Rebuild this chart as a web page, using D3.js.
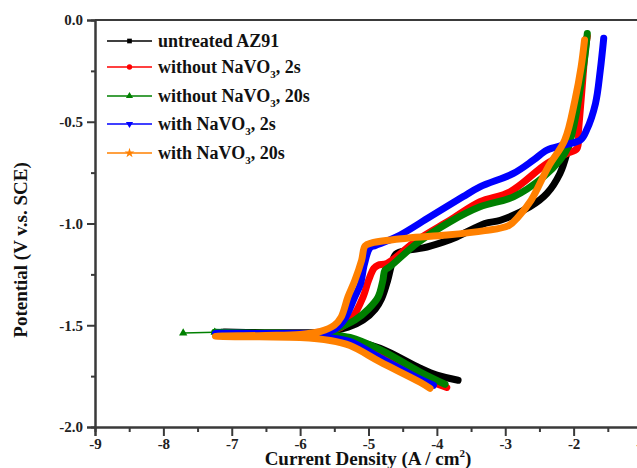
<!DOCTYPE html>
<html>
<head>
<meta charset="utf-8">
<script src="https://cdn.jsdelivr.net/npm/d3@7"></script>
<style>
  body { margin: 0; background: #fff; }
  svg text { font-family: "Liberation Serif", "Times New Roman", serif; font-weight: bold; }
</style>
</head>
<body>
<div id="chart"></div>
<script>
// series: [log current density, potential]
var untreatedAZ91 = [
  [-3.69, -1.77], [-4.0, -1.745], [-4.245, -1.711], [-4.83, -1.613], [-5.3, -1.57], [-5.6, -1.55],
  [-6.2, -1.54], [-7.14, -1.533], [-6.2, -1.537], [-5.6, -1.533], [-5.3, -1.51], [-5.08, -1.475],
  [-4.9, -1.42], [-4.81, -1.37], [-4.72, -1.28], [-4.66, -1.2], [-4.6, -1.15], [-4.4, -1.13],
  [-4.2, -1.12], [-3.9, -1.09], [-3.71, -1.066], [-3.3, -1.0], [-3.07, -0.984], [-2.64, -0.918],
  [-2.39, -0.852], [-2.2, -0.754], [-2.1, -0.656], [-2.0, -0.492], [-1.9, -0.295], [-1.83, -0.131], [-1.81, -0.09]
];
var without2s = [
  [-3.855, -1.806], [-4.245, -1.755], [-4.83, -1.652], [-5.27, -1.585], [-5.6, -1.56], [-6.3, -1.548],
  [-7.1, -1.545], [-6.3, -1.54], [-5.6, -1.53], [-5.4, -1.51], [-5.25, -1.47], [-5.08, -1.362],
  [-5.0, -1.28], [-4.92, -1.22], [-4.86, -1.205], [-4.73, -1.196], [-4.29, -1.082], [-3.81, -0.984],
  [-3.37, -0.893], [-2.93, -0.844], [-2.39, -0.705], [-2.1, -0.656], [-1.95, -0.631], [-1.93, -0.55],
  [-1.88, -0.35], [-1.83, -0.15], [-1.8, -0.08]
];
var without20s = [
  [-3.88, -1.79], [-4.245, -1.73], [-4.83, -1.62], [-5.27, -1.56], [-5.6, -1.548], [-6.3, -1.54],
  [-7.25, -1.535], [-6.3, -1.538], [-5.6, -1.53], [-5.35, -1.5], [-5.2, -1.475], [-5.0, -1.42],
  [-4.86, -1.362], [-4.79, -1.28], [-4.76, -1.229], [-4.69, -1.213], [-4.29, -1.097], [-3.81, -0.992],
  [-3.37, -0.918], [-2.88, -0.869], [-2.44, -0.771], [-2.2, -0.689], [-2.08, -0.623], [-1.98, -0.492],
  [-1.9, -0.328], [-1.83, -0.164], [-1.8, -0.066]
];
var without20sLead = [[-7.25, -1.535], [-7.71, -1.538]];
var with2s = [
  [-4.05, -1.795], [-4.245, -1.765], [-4.83, -1.66], [-5.27, -1.58], [-5.6, -1.56], [-6.3, -1.548],
  [-7.24, -1.54], [-6.3, -1.54], [-5.7, -1.535], [-5.5, -1.52], [-5.35, -1.47], [-5.2, -1.36],
  [-5.12, -1.3], [-5.06, -1.2], [-4.98, -1.12], [-4.9, -1.108], [-4.59, -1.066], [-4.1, -0.967],
  [-3.62, -0.869], [-3.37, -0.82], [-2.88, -0.754], [-2.59, -0.689], [-2.39, -0.639], [-2.15, -0.615],
  [-1.9, -0.59], [-1.81, -0.541], [-1.68, -0.41], [-1.61, -0.246], [-1.56, -0.09]
];
var with20s = [
  [-4.1, -1.81], [-4.245, -1.78], [-4.83, -1.68], [-5.27, -1.6], [-5.56, -1.575], [-6.0, -1.56],
  [-6.6, -1.557], [-7.24, -1.554], [-6.5, -1.55], [-6.0, -1.545], [-5.7, -1.53], [-5.5, -1.5],
  [-5.4, -1.46], [-5.3, -1.36], [-5.2, -1.28], [-5.1, -1.18], [-5.05, -1.11], [-4.95, -1.095],
  [-4.44, -1.072], [-3.855, -1.057], [-3.3, -1.035], [-2.95, -1.01], [-2.81, -0.967], [-2.62, -0.885],
  [-2.37, -0.721], [-2.13, -0.59], [-1.98, -0.393], [-1.89, -0.23], [-1.84, -0.098]
];

var seriesNames = ['untreated AZ91', 'without NaVO|3|, 2s', 'without NaVO|3|, 20s', 'with NaVO|3|, 2s', 'with NaVO|3|, 20s'];
var seriesData = [untreatedAZ91, without2s, without20s, with2s, with20s];
var colors = ['#000000', '#ff0000', '#008000', '#0000ff', '#ff8000'];
var symbols = [d3.symbolSquare, d3.symbolCircle, d3.symbolTriangle, d3.symbolTriangle, d3.symbolStar];

var xTicks = [-9, -8, -7, -6, -5, -4, -3, -2, -1];
var yTicks = [0, -0.5, -1.0, -1.5, -2.0];

var width = 637, height = 468;
var svg = d3.select('#chart').append('svg').attr('width', width).attr('height', height);

var x = d3.scaleLinear().domain([-9, -1]).range([95, 642]);
var y = d3.scaleLinear().domain([-2, 0]).range([427, 20]);

var axisColor = '#3a3a3a';

// curves
var line = d3.line().x(function(d) { return x(d[0]); }).y(function(d) { return y(d[1]); }).curve(d3.curveCatmullRom.alpha(0.5));

seriesData.forEach(function(s, i) {
  svg.append('path')
    .attr('d', line(s))
    .attr('fill', 'none')
    .attr('stroke', colors[i])
    .attr('stroke-width', 7)
    .attr('stroke-linejoin', 'round')
    .attr('stroke-linecap', 'round');
  if (i == 2) {
    svg.append('path')
      .attr('d', d3.line().x(function(d) { return x(d[0]); }).y(function(d) { return y(d[1]); })(without20sLead))
      .attr('stroke', colors[2]).attr('stroke-width', 1.5).attr('fill', 'none');
    svg.selectAll('.lead').data(without20sLead).enter().append('path')
      .attr('d', d3.symbol().type(d3.symbolTriangle).size(30))
      .attr('transform', function(d) { return 'translate(' + x(d[0]) + ',' + y(d[1]) + ')'; })
      .attr('fill', colors[2]);
  }
});

// axes
var xAxis = svg.append('g').attr('transform', 'translate(0,' + y(-2) + ')')
  .call(d3.axisBottom(x).tickValues(xTicks).tickSize(9).tickFormat(function(d) { return String(d); }));
var xMinor = svg.append('g').attr('transform', 'translate(0,' + y(-2) + ')')
  .call(d3.axisBottom(x).tickValues(d3.range(-8.5, -1, 1)).tickSize(5).tickFormat(''));
var yAxis = svg.append('g').attr('transform', 'translate(' + x(-9) + ',0)')
  .call(d3.axisLeft(y).tickValues(yTicks).tickSize(8).tickFormat(function(d) { return d3.format('.1f')(d).replace('\u2212', '-'); }));
var yMinor = svg.append('g').attr('transform', 'translate(' + x(-9) + ',0)')
  .call(d3.axisLeft(y).tickValues([-0.25, -0.75, -1.25, -1.75]).tickSize(4).tickFormat(''));

[xAxis, xMinor, yAxis, yMinor].forEach(function(g) {
  g.select('.domain').attr('stroke', axisColor).attr('stroke-width', 2);
  g.selectAll('.tick line').attr('stroke', axisColor).attr('stroke-width', 2);
});
xAxis.selectAll('.tick text').attr('font-size', 15).attr('fill', '#222').attr('y', 11)
  .attr('font-family', '"Liberation Serif", serif').attr('font-weight', 'bold');
yAxis.selectAll('.tick text').attr('font-size', 15).attr('fill', '#222').attr('x', -12)
  .attr('font-family', '"Liberation Serif", serif').attr('font-weight', 'bold');

// top and right frame
svg.append('line').attr('x1', x(-9)).attr('x2', x(-1)).attr('y1', y(0)).attr('y2', y(0))
  .attr('stroke', axisColor).attr('stroke-width', 2);
svg.append('line').attr('x1', x(-1)).attr('x2', x(-1)).attr('y1', y(0)).attr('y2', y(-2))
  .attr('stroke', axisColor).attr('stroke-width', 2);

// axis titles
var xt = svg.append('text').attr('x', 368).attr('y', 465).attr('text-anchor', 'middle')
  .attr('font-size', 19).attr('fill', '#111');
xt.append('tspan').text('Current Density (A / cm');
xt.append('tspan').attr('font-size', 11).attr('dy', -8).text('2');
xt.append('tspan').attr('dy', 8).text(')');

svg.append('text').attr('transform', 'translate(27,250) rotate(-90)').attr('text-anchor', 'middle')
  .attr('font-size', 19).attr('fill', '#111').text('Potential (V v.s. SCE)');

// legend
var legendY = [41, 67, 96, 124, 153];
seriesNames.forEach(function(name, i) {
  var ly = legendY[i];
  svg.append('line').attr('x1', 107).attr('x2', 152).attr('y1', ly).attr('y2', ly)
    .attr('stroke', colors[i]).attr('stroke-width', 1.6);
  svg.append('path')
    .attr('d', d3.symbol().type(symbols[i]).size(i == 4 ? 30 : 22))
    .attr('transform', 'translate(129.5,' + ly + ')' + (i == 3 ? ' rotate(180)' : ''))
    .attr('fill', colors[i]);
  var t = svg.append('text').attr('x', 158).attr('y', ly + 6).attr('font-size', 18).attr('fill', '#111');
  var parts = name.split('|');
  t.append('tspan').text(parts[0]);
  if (parts.length > 1) {
    t.append('tspan').attr('font-size', 11).attr('dy', 5).text(parts[1]);
    t.append('tspan').attr('dy', -5).text(parts[2]);
  }
});
</script>
</body>
</html>
